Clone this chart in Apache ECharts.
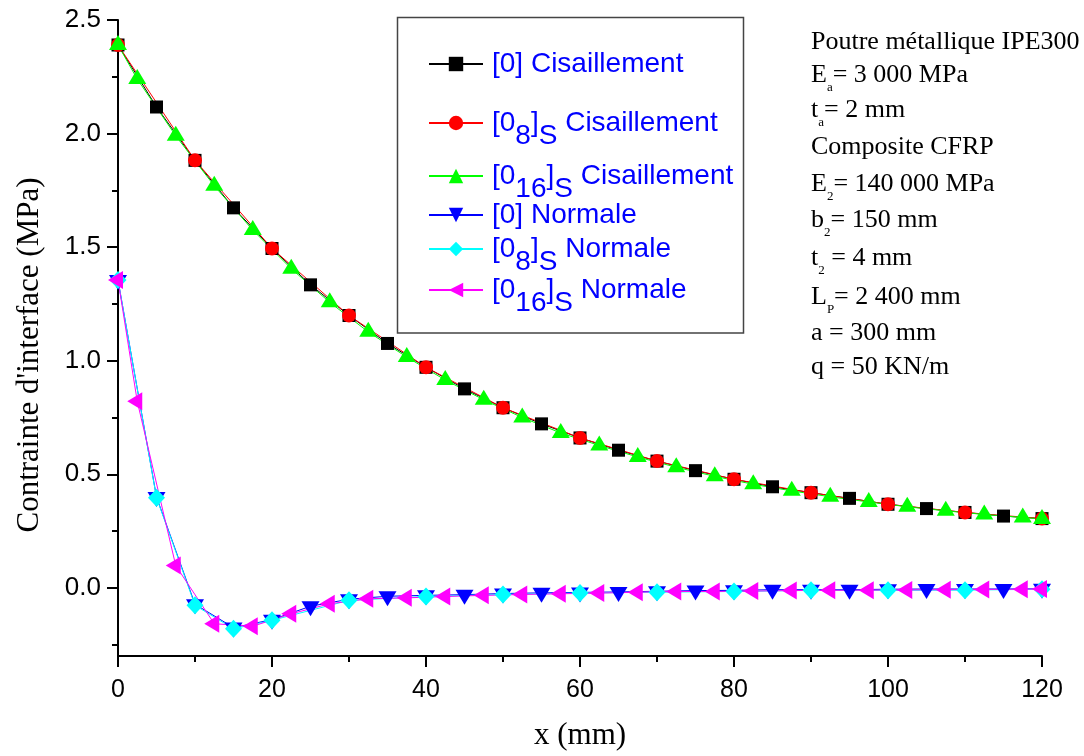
<!DOCTYPE html>
<html>
<head>
<meta charset="utf-8">
<script src="https://cdn.jsdelivr.net/npm/echarts@6/dist/echarts.min.js"></script>
<style>html,body{margin:0;padding:0;background:#fff;}#c{width:1084px;height:756px;}</style>
</head>
<body>
<div id="c"></div>
<script>
// ---- data ----
var seriesNames = ['[0] Cisaillement', '[08]S Cisaillement', '[016]S Cisaillement', '[0] Normale', '[08]S Normale', '[016]S Normale'];
// [0] Cisaillement (every 5 mm)
var blackX = [0,5,10,15,20,25,30,35,40,45,50,55,60,65,70,75,80,85,90,95,100,105,110,115,120];
var blackY = [2.39,2.117,1.882,1.673,1.494,1.334,1.199,1.076,0.971,0.876,0.793,0.722,0.660,0.606,0.558,0.516,0.478,0.445,0.419,0.394,0.368,0.349,0.332,0.316,0.305];
// [0_8]S Cisaillement (every 10 mm)
var redX = [0,10,20,30,40,50,60,70,80,90,100,110,120];
var redY = [2.39,1.882,1.494,1.199,0.971,0.793,0.660,0.558,0.478,0.419,0.368,0.332,0.305];
// [0_16]S Cisaillement
var greenX = [0,2.5,7.5,12.5,17.5,22.5,27.5,32.5,37.5,42.5,47.5,52.5,57.5,62.5,67.5,72.5,77.5,82.5,87.5,92.5,97.5,102.5,107.5,112.5,117.5,120];
var greenY = [2.39,2.24,1.99,1.77,1.575,1.405,1.257,1.127,1.016,0.915,0.828,0.75,0.682,0.627,0.576,0.531,0.491,0.456,0.427,0.401,0.378,0.357,0.339,0.323,0.31,0.303];
// [0] Normale (every 5 mm)
var blueX = [0,5,10,15,20,25,30,35,40,45,50,55,60,65,70,75,80,85,90,95,100,105,110,115,120];
var blueY = [1.355,0.40,-0.072,-0.175,-0.14,-0.081,-0.05,-0.037,-0.033,-0.030,-0.025,-0.022,-0.02,-0.018,-0.015,-0.012,-0.011,-0.008,-0.008,-0.008,-0.006,-0.005,-0.005,-0.005,-0.004];
// [0_8]S Normale
var cyanX = [0,5,10,15,20,30,40,50,60,70,80,90,100,110,120];
var cyanY = [1.355,0.397,-0.077,-0.18,-0.143,-0.055,-0.038,-0.029,-0.023,-0.019,-0.016,-0.011,-0.011,-0.01,-0.006];
// [0_16]S Normale
var magentaX = [0,2.5,7.5,12.5,17.5,22.5,27.5,32.5,37.5,42.5,47.5,52.5,57.5,62.5,67.5,72.5,77.5,82.5,87.5,92.5,97.5,102.5,107.5,112.5,117.5,120];
var magentaY = [1.355,0.821,0.098,-0.158,-0.169,-0.114,-0.07,-0.048,-0.044,-0.038,-0.033,-0.029,-0.026,-0.023,-0.019,-0.016,-0.016,-0.014,-0.012,-0.011,-0.01,-0.009,-0.008,-0.007,-0.006,-0.005];
var xTicks = [0,20,40,60,80,100,120];
var yLabelValues = [0,0.5,1.0,1.5,2.0,2.5];
var yMinorValues = [-0.25,0.25,0.75,1.25,1.75,2.25];
var annotationLines = [
  '{n|Poutre métallique IPE300}',
  '{n|E}{s|a}{n|= 3 000 MPa}',
  '{n|t}{s|a}{n|= 2 mm}',
  '{n|Composite CFRP}',
  '{n|E}{s|2}{n|= 140 000 MPa}',
  '{n|b}{s|2}{n|= 150 mm}',
  '{n|t}{s|2}{n| = 4 mm}',
  '{n|L}{s|P}{n|= 2 400 mm}',
  '{n|a = 300 mm}',
  '{n|q = 50 KN/m}'
];

function zip(xs, ys) { return xs.map(function (x, i) { return [x, ys[i]]; }); }

var legendRich = {
  a: {fontSize: 28, fontFamily: 'Liberation Sans, Arial', color: '#0000ff', lineHeight: 32, padding: [13, 0, 13, 4]},
  n: {fontSize: 28, fontFamily: 'Liberation Sans, Arial', color: '#0000ff', lineHeight: 32, padding: [13, 0, 13, 0]},
  s: {fontSize: 28, fontFamily: 'Liberation Sans, Arial', color: '#0000ff', lineHeight: 32, padding: [26, 0, 0, 0]},
  p: {fontSize: 28, fontFamily: 'Liberation Sans, Arial', color: '#0000ff', lineHeight: 32, padding: [0, 0, 0, 4]}
};
function legendFormatter(name) {
  var m = name.match(/^\[0(\d+)\]S (.*)$/);
  if (m) return '{a|[0}{s|' + m[1] + '}{n|]}{s|S}{n| ' + m[2] + '}';
  return '{p|' + name + '}';
}
var legendCenters = [66, 125, 178, 217, 251, 292];
var legends = seriesNames.map(function (nm, i) {
  var h = /S /.test(nm) ? 58 : 32;
  return {
    data: [nm], left: 428, top: legendCenters[i] - h / 2, padding: 0,
    itemWidth: 54, itemHeight: 18, orient: 'vertical',
    formatter: legendFormatter, textStyle: {rich: legendRich}, selectedMode: false
  };
});

var annoRich = {
  n: {fontSize: 26, fontFamily: 'Liberation Serif, Times New Roman', color: '#3a3a3a', lineHeight: 28, verticalAlign: 'top'},
  s: {fontSize: 13, fontFamily: 'Liberation Serif, Times New Roman', color: '#3a3a3a', lineHeight: 13, padding: [19, 0, 0, 0], verticalAlign: 'top'}
};
var annoCenters = [40, 73, 108, 145, 182, 218, 256, 295, 331, 365];
var graphics = annotationLines.map(function (t, i) {
  return {type: 'text', left: 811, top: annoCenters[i] - 11, style: {text: t, rich: annoRich}};
});
graphics.push({type: 'rect', shape: {x: 397.5, y: 17.5, width: 346, height: 315.5}, style: {fill: 'none', stroke: '#444', lineWidth: 1.5}, z: 0});

var chart = echarts.init(document.getElementById('c'));
chart.setOption({
  animation: false,
  backgroundColor: '#fff',
  grid: {left: 118, right: 42, top: 20, bottom: 97},
  legend: legends,
  graphic: graphics,
  xAxis: {
    type: 'value', min: 0, max: 120, interval: 20,
    name: 'x (mm)', nameLocation: 'middle', nameGap: 64,
    nameTextStyle: {fontFamily: 'Liberation Serif, Times New Roman', fontSize: 31, color: '#000'},
    axisLine: {onZero: false, lineStyle: {color: '#000', width: 2}},
    axisTick: {show: true, length: 11, lineStyle: {color: '#000', width: 2}},
    minorTick: {show: true, splitNumber: 2, length: 6, lineStyle: {color: '#000', width: 2}},
    axisLabel: {fontFamily: 'Liberation Sans, Arial', fontSize: 25, color: '#000', margin: 22},
    splitLine: {show: false}
  },
  yAxis: [{
    type: 'value', min: -0.3, max: 2.5, position: 'left',
    name: "Contrainte d'interface (MPa)", nameLocation: 'middle', nameGap: 73, nameRotate: 90,
    nameTextStyle: {fontFamily: 'Liberation Serif, Times New Roman', fontSize: 31, color: '#000', padding: [0, 34, 0, 0]},
    axisLine: {show: true, onZero: false, lineStyle: {color: '#000', width: 2}},
    axisTick: {show: true, length: 11, customValues: yLabelValues, lineStyle: {color: '#000', width: 2}},
    axisLabel: {customValues: yLabelValues, fontFamily: 'Liberation Sans, Arial', fontSize: 26, color: '#000', margin: 17,
      formatter: function (v) { return v.toFixed(1); }},
    splitLine: {show: false}
  }, {
    type: 'value', min: -0.3, max: 2.5, position: 'left', offset: 0,
    axisLine: {show: false, onZero: false},
    axisTick: {show: true, length: 6, customValues: yMinorValues, lineStyle: {color: '#000', width: 2}},
    axisLabel: {show: false},
    splitLine: {show: false}
  }],
  series: [
    {name: seriesNames[0], type: 'line', data: zip(blackX, blackY), symbol: 'rect', symbolSize: 13,
      itemStyle: {color: '#000'}, lineStyle: {color: '#000', width: 1}},
    {name: seriesNames[1], type: 'line', data: zip(redX, redY), symbol: 'circle', symbolSize: 14,
      itemStyle: {color: '#ff0000'}, lineStyle: {color: '#ff0000', width: 1}},
    {name: seriesNames[2], type: 'line', data: zip(greenX, greenY), symbol: 'triangle', symbolSize: [18, 15], symbolOffset: [0, -2.5],
      itemStyle: {color: '#00ff00'}, lineStyle: {color: '#00ff00', width: 1}},
    {name: seriesNames[3], type: 'line', data: zip(blueX, blueY), symbol: 'triangle', symbolRotate: 180, symbolSize: [18, 15], symbolOffset: [0, 2.5],
      itemStyle: {color: '#0000ff'}, lineStyle: {color: '#0000ff', width: 1}},
    {name: seriesNames[4], type: 'line', data: zip(cyanX, cyanY), symbol: 'diamond', symbolSize: [17, 18],
      itemStyle: {color: '#00ffff'}, lineStyle: {color: '#00ffff', width: 1}},
    {name: seriesNames[5], type: 'line', data: zip(magentaX, magentaY), symbol: 'triangle', symbolRotate: 90, symbolSize: [18, 15], symbolOffset: [-2.5, 0],
      itemStyle: {color: '#ff00ff'}, lineStyle: {color: '#ff00ff', width: 1}}
  ]
});
</script>
</body>
</html>
